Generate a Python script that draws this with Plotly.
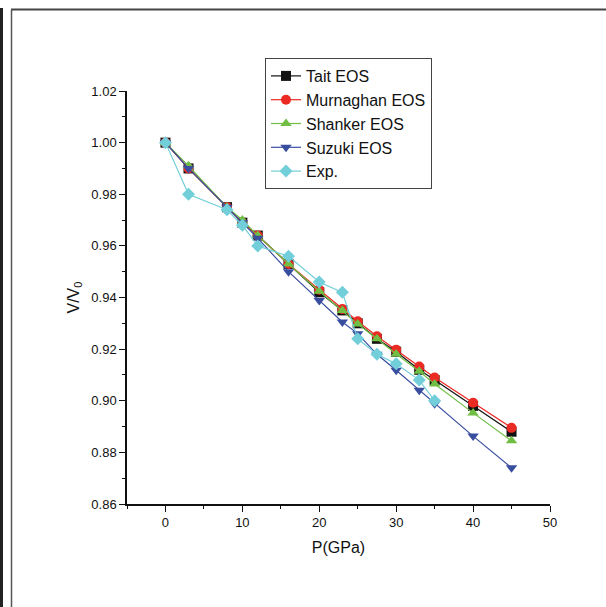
import plotly.graph_objects as go

pressure = [0, 3, 8, 10, 12, 16, 20, 23, 25, 27.5, 30, 33, 35, 40, 45]
tait = [1.000, 0.990, 0.975, 0.969, 0.964, 0.953, 0.942, 0.935, 0.930, 0.924, 0.919, 0.912, 0.908, 0.898, 0.888]
murnaghan = [1.000, 0.990, 0.975, 0.969, 0.964, 0.953, 0.943, 0.9355, 0.9308, 0.925, 0.9198, 0.9133, 0.909, 0.8992, 0.8895]
shanker = [1.000, 0.991, 0.975, 0.970, 0.964, 0.953, 0.9424, 0.935, 0.9297, 0.924, 0.9181, 0.9114, 0.9065, 0.8953, 0.8845]
suzuki = [1.000, 0.990, 0.975, 0.969, 0.963, 0.950, 0.9388, 0.9305, 0.926, 0.918, 0.9118, 0.9041, 0.8988, 0.8863, 0.874]
exp_p = [0, 3, 8, 10, 12, 16, 20, 23, 25, 27.5, 30, 33, 35]
exp_v = [1.000, 0.980, 0.974, 0.968, 0.960, 0.956, 0.946, 0.942, 0.924, 0.918, 0.9143, 0.908, 0.900]

series = [
    ("Tait EOS", pressure, tait, "#111111", "square"),
    ("Murnaghan EOS", pressure, murnaghan, "#ec2a24", "circle"),
    ("Shanker EOS", pressure, shanker, "#70bf44", "triangle-up"),
    ("Suzuki EOS", pressure, suzuki, "#3a4ea0", "triangle-down"),
    ("Exp.", exp_p, exp_v, "#72cfd9", "diamond"),
]

fig = go.Figure()
for name, xs, ys, col, sym in series:
    fig.add_trace(go.Scatter(
        x=xs, y=ys, name=name, mode="lines+markers",
        line=dict(color=col, width=1.2),
        marker=dict(color=col, symbol=sym, size=10, line=dict(width=0)),
    ))

W, H = 606, 607
L, R, T, B = 127, 550, 91, 504
pw, ph = R - L, B - T

def px(x):
    return (x - L) / pw

def py(y):
    return (B - y) / ph

shapes = [
    dict(type="line", xref="paper", yref="paper", x0=px(1.5), x1=px(1.5), y0=py(8), y1=py(607),
         line=dict(color="#222222", width=3)),
    dict(type="line", xref="paper", yref="paper", x0=px(11.5), x1=px(11.5), y0=py(10), y1=py(607),
         line=dict(color="#555555", width=1.5)),
    dict(type="line", xref="paper", yref="paper", x0=px(11), x1=px(606), y0=py(9.5), y1=py(9.5),
         line=dict(color="#444444", width=2)),
]

FONT = "Liberation Sans, Arial, sans-serif"
fig.update_layout(
    width=W, height=H,
    margin=dict(l=L, r=W - R, t=T, b=H - B),
    paper_bgcolor="white", plot_bgcolor="white",
    font=dict(family=FONT, color="#111111", size=13),
    showlegend=True,
    legend=dict(
        x=px(265), y=py(58), xanchor="left", yanchor="top",
        bgcolor="white", bordercolor="#444444", borderwidth=1,
        font=dict(size=16, family=FONT),
        tracegroupgap=0, itemwidth=30,
    ),
    shapes=shapes,
    xaxis=dict(
        range=[-5, 50], tickmode="array", tickvals=[0, 10, 20, 30, 40, 50],
        showgrid=False, zeroline=False, showline=True, linecolor="#111111", linewidth=1.5,
        ticks="outside", ticklen=6, tickwidth=1.2, tickcolor="#111111",
        minor=dict(tickvals=[-5, 5, 15, 25, 35, 45], ticks="outside", ticklen=3, tickcolor="#111111", tickwidth=1),
        title=dict(text="P(GPa)", font=dict(size=16), standoff=12),
        tickfont=dict(size=13),
    ),
    yaxis=dict(
        range=[0.86, 1.02], tickmode="array",
        tickvals=[0.86, 0.88, 0.90, 0.92, 0.94, 0.96, 0.98, 1.00, 1.02],
        tickformat=".2f",
        showgrid=False, zeroline=False, showline=True, linecolor="#111111", linewidth=1.5,
        ticks="outside", ticklen=6, tickwidth=1.2, tickcolor="#111111",
        minor=dict(tickvals=[0.87, 0.89, 0.91, 0.93, 0.95, 0.97, 0.99, 1.01], ticks="outside", ticklen=3, tickcolor="#111111", tickwidth=1),
        title=dict(text="V/V<sub>0</sub>", font=dict(size=16), standoff=8),
        tickfont=dict(size=13),
    ),
)

fig.write_html(
    "out.html",
    config={"displayModeBar": False},
    post_script="document.documentElement.style.margin='0';document.body.style.margin='0';document.body.style.overflow='hidden';",
)
